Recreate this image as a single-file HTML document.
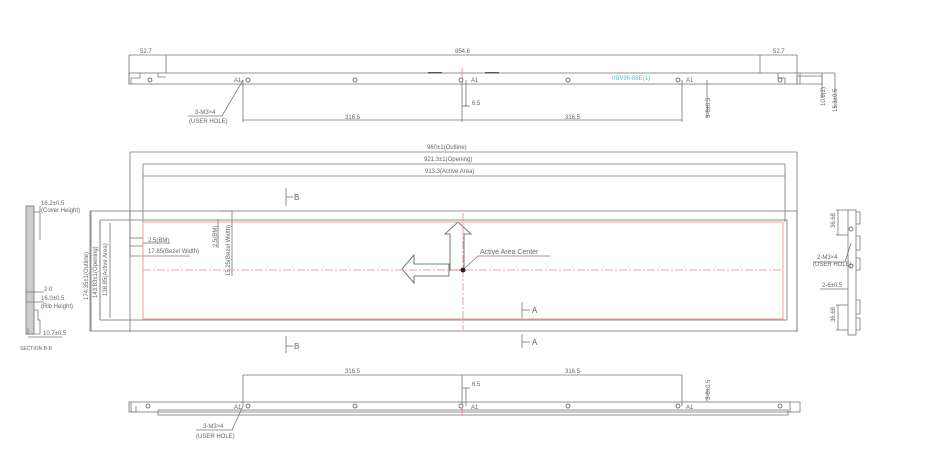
<!DOCTYPE html>
<html><head><meta charset="utf-8"><style>
html,body{margin:0;padding:0;background:#fff}
svg{display:block}
text{font-family:"Liberation Sans",sans-serif;font-size:6px;fill:#666}
</style></head><body>
<svg width="930" height="453" viewBox="0 0 930 453" xmlns="http://www.w3.org/2000/svg">
<g stroke="#777" stroke-width="0.8" fill="none">
<!-- TOP VIEW -->
<line x1="129" y1="55" x2="797" y2="55"/>
<line x1="129" y1="55" x2="129" y2="84"/><line x1="166" y1="55" x2="166" y2="73"/>
<line x1="760" y1="55" x2="760" y2="73"/><line x1="797" y1="55" x2="797" y2="84"/>
<rect x="129" y="73" width="671" height="11"/>
<polyline points="131,84 131,78 140,78 140,73"/><polyline points="158,73 158,77 166,77"/>
<polyline points="785,84 785,78 778,78 778,73"/><polyline points="797,84 797,76 822,76 822,84"/>
<line x1="800" y1="84" x2="822" y2="84"/><line x1="800" y1="73" x2="835" y2="73"/>
<line x1="822" y1="73" x2="822" y2="98"/><line x1="835" y1="73" x2="835" y2="108"/>
<line x1="243" y1="80" x2="243" y2="122"/><line x1="462" y1="78" x2="462" y2="122"/><line x1="682" y1="80" x2="682" y2="122"/>
<line x1="243" y1="120" x2="682" y2="120"/>
<line x1="466" y1="80" x2="466" y2="107"/><line x1="462" y1="106" x2="470" y2="106"/>
<line x1="707" y1="80" x2="707" y2="118"/>
<polyline points="243,80 222,116 188,116"/>
<!-- FRONT VIEW -->
<line x1="130" y1="152" x2="797" y2="152"/><line x1="130" y1="152" x2="130" y2="332"/><line x1="797" y1="152" x2="797" y2="332"/>
<line x1="143" y1="164" x2="785" y2="164"/><line x1="143" y1="176" x2="785" y2="176"/>
<line x1="143" y1="164" x2="143" y2="222"/><line x1="785" y1="164" x2="785" y2="222"/>
<rect x="90" y="211" width="707" height="120"/>
<rect x="100" y="220" width="687" height="100"/>
<line x1="91" y1="211" x2="91" y2="331"/><line x1="100" y1="221" x2="100" y2="320"/><line x1="110" y1="223" x2="110" y2="318"/>
<line x1="130" y1="238" x2="143" y2="238"/><line x1="130" y1="246" x2="143" y2="246"/>
<line x1="130" y1="211" x2="130" y2="256"/><line x1="130" y1="256" x2="190" y2="256"/><line x1="143" y1="243" x2="170" y2="243"/>
<line x1="220" y1="211" x2="232" y2="211"/><line x1="232" y1="211" x2="232" y2="276"/><line x1="218" y1="219" x2="218" y2="248"/>
<line x1="286" y1="188" x2="286" y2="206"/><line x1="286" y1="197" x2="293" y2="197"/>
<line x1="286" y1="336" x2="286" y2="353"/><line x1="286" y1="346" x2="293" y2="346"/>
<line x1="522" y1="302" x2="522" y2="318"/><line x1="522" y1="310" x2="530" y2="310"/>
<line x1="522" y1="334" x2="522" y2="348"/><line x1="522" y1="342" x2="530" y2="342"/>
<polygon points="458,222 471,234 464,234 464,270 450,270 450,234 445,234" stroke="#555"/>
<polygon points="402,269 414,255 414,264 449,264 449,276 414,276 414,283" stroke="#555"/>
<polyline points="465,268 478,256 550,256"/>
<!-- SECTION B-B -->
<rect x="26" y="206" width="8" height="128" fill="#ccc"/>
<line x1="34" y1="212" x2="40" y2="212"/><line x1="40" y1="206" x2="40" y2="240"/>
<line x1="26" y1="292" x2="44" y2="292"/><line x1="26" y1="302" x2="44" y2="302"/>
<polyline points="34,310 38,310 38,320 40,320 40,334 26,334"/>
<line x1="28" y1="328" x2="28" y2="334"/><line x1="28" y1="337" x2="62" y2="337"/>
<!-- RIGHT SIDE VIEW -->
<rect x="848" y="210" width="8" height="125"/>
<polyline points="856,212 860,212 860,224 856,224"/><polyline points="856,236 860,236 860,250 856,250"/>
<polyline points="856,258 860,258 860,270 856,270"/><polyline points="856,300 860,300 860,314 856,314"/>
<polyline points="856,318 860,318 860,330 856,330"/>
<line x1="836" y1="210" x2="848" y2="210"/><line x1="836" y1="235" x2="848" y2="235"/><line x1="838" y1="210" x2="838" y2="235"/>
<line x1="836" y1="305" x2="848" y2="305"/><line x1="836" y1="330" x2="848" y2="330"/><line x1="838" y1="305" x2="838" y2="330"/>
<polyline points="851,243 845,262 813,262"/><line x1="820" y1="289" x2="848" y2="289"/>
<!-- BOTTOM VIEW -->
<line x1="243" y1="375" x2="682" y2="375"/>
<line x1="243" y1="375" x2="243" y2="406"/><line x1="462" y1="375" x2="462" y2="412"/><line x1="682" y1="375" x2="682" y2="406"/>
<line x1="466" y1="388" x2="466" y2="406"/><line x1="462" y1="388" x2="470" y2="388"/><line x1="707" y1="390" x2="707" y2="402"/>
<rect x="129" y="402" width="671" height="10"/>
<rect x="158" y="410" width="630" height="5"/>
<polyline points="131,402 131,412 136,412 136,406"/><polyline points="790,402 790,412"/>
<polyline points="243,406 232,430 196,430"/>
</g>
<g stroke="#e88" stroke-width="0.8" fill="none">
<rect x="143" y="222" width="640" height="97"/>
<line x1="143" y1="270" x2="783" y2="270" stroke-dasharray="8,2,2,2"/>
<line x1="463" y1="213" x2="463" y2="330" stroke-dasharray="8,2,2,2"/>
<line x1="462" y1="68" x2="462" y2="78"/><line x1="462" y1="408" x2="462" y2="416"/>
</g>
<g fill="#fff" stroke="#555" stroke-width="0.8">
<circle cx="150" cy="80" r="2"/><circle cx="248" cy="80" r="2"/><circle cx="355" cy="80" r="2"/><circle cx="461" cy="80" r="2"/><circle cx="568" cy="80" r="2"/><circle cx="678" cy="80" r="2"/><circle cx="780" cy="80" r="2"/>
<circle cx="148" cy="406" r="2"/><circle cx="248" cy="406" r="2"/><circle cx="355" cy="406" r="2"/><circle cx="461" cy="406" r="2"/><circle cx="568" cy="406" r="2"/><circle cx="678" cy="406" r="2"/><circle cx="780" cy="406" r="2"/>
<circle cx="851" cy="229" r="2"/><circle cx="851" cy="266" r="2"/>
</g>
<circle cx="463" cy="270" r="2.5" fill="#222"/>
<g fill="#555">
<rect x="428" y="72" width="14" height="1.5"/><rect x="485" y="72" width="14" height="1.5"/>
</g>
<text x="140" y="53">52.7</text><text x="455" y="53">854.6</text><text x="773" y="53">52.7</text>
<text x="234" y="82">A1</text><text x="471" y="82">A1</text><text x="686" y="82">A1</text>
<text x="612" y="80" style="fill:#6bc">0BV96-88E(1)</text>
<text x="472" y="105">6.5</text><text x="345" y="119">316.5</text><text x="565" y="119">316.5</text>
<text x="195" y="114">3-M3×4</text><text x="189" y="123">(USER HOLE)</text>
<text transform="translate(710,118) rotate(-90)">3-6±0.5</text>
<text transform="translate(825,106) rotate(-90)">10.6(2)</text>
<text transform="translate(837,112) rotate(-90)">15.3±0.5</text>
<text x="427" y="149">960±1(Outline)</text><text x="424" y="161">921.3±1(Opening)</text><text x="425" y="173">913.3(Active Area)</text>
<text x="148" y="242">2.5(BM)</text><text x="148" y="253">17.85(Bezel Width)</text>
<text transform="translate(217,247) rotate(-90)">2.5(BM)</text>
<text transform="translate(230,276) rotate(-90)">15.25(Bezel Width)</text>
<text transform="translate(88,300) rotate(-90)">174.35±1(Outline)</text>
<text transform="translate(97,298) rotate(-90)">143.83±1(Opening)</text>
<text transform="translate(107,296) rotate(-90)">138.85(Active Area)</text>
<text x="294" y="200" style="font-size:8px">B</text><text x="294" y="349" style="font-size:8px">B</text>
<text x="532" y="313" style="font-size:8px">A</text><text x="532" y="345" style="font-size:8px">A</text>
<text x="480" y="254" style="font-size:7px">Active Area Center</text>
<text x="41" y="205">16.2±0.5</text><text x="41" y="212">(Cover Height)</text>
<text x="44" y="291">2.0</text><text x="41" y="300">16.0±0.5</text><text x="41" y="308">(Rib Height)</text>
<text x="43" y="335">10.7±0.5</text><text x="20" y="350" style="font-size:5px">SECTION B-B</text>
<text transform="translate(835,228) rotate(-90)">36.68</text><text transform="translate(835,322) rotate(-90)">36.68</text>
<text x="817" y="259">2-M3×4</text><text x="813" y="266">(USER HOLE)</text><text x="822" y="287">2-6±0.5</text>
<text x="345" y="373">316.5</text><text x="565" y="373">316.5</text><text x="472" y="386">6.5</text>
<text transform="translate(710,400) rotate(-90)">3-6±0.5</text>
<text x="234" y="409">A1</text><text x="471" y="409">A1</text><text x="686" y="409">A1</text>
<text x="203" y="428">3-M3×4</text><text x="196" y="438">(USER HOLE)</text>
</svg>
</body></html>
